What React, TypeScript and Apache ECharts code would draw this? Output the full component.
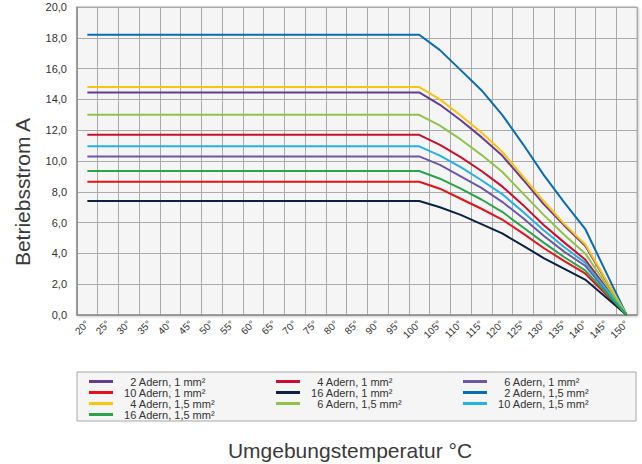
import React, { useEffect, useRef } from "react";
import * as echarts from "echarts";

const temps = [20, 25, 30, 35, 40, 45, 50, 55, 60, 65, 70, 75, 80, 85, 90, 95, 100, 105, 110, 115, 120, 125, 130, 135, 140, 145, 150];
const tempLabels = temps.map((t) => `${t}°`);

const seriesNames = [
  "2 Adern, 1 mm²",
  "4 Adern, 1 mm²",
  "6 Adern, 1 mm²",
  "10 Adern, 1 mm²",
  "16 Adern, 1 mm²",
  "2 Adern, 1,5 mm²",
  "4 Adern, 1,5 mm²",
  "6 Adern, 1,5 mm²",
  "10 Adern, 1,5 mm²",
  "16 Adern, 1,5 mm²",
];

const colors = ["#663c93", "#c8102e", "#6e57a3", "#e3131b", "#0b2341", "#0a6cb2", "#ffc20e", "#8fc449", "#23b1e6", "#2ca24b"];

// current up to 100 °C (flat part)
const plateau = [14.45, 11.7, 10.3, 8.65, 7.4, 18.2, 14.8, 13.0, 10.95, 9.35];

// current at 105, 110, ... 150 °C
const derated = [
  [13.65, 12.65, 11.55, 10.35, 8.8, 7.2, 5.8, 4.5, 2.25, 0],
  [11.05, 10.25, 9.35, 8.35, 7.15, 5.85, 4.7, 3.6, 1.8, 0],
  [9.75, 9.0, 8.25, 7.35, 6.3, 5.15, 4.1, 3.2, 1.6, 0],
  [8.2, 7.55, 6.9, 6.2, 5.3, 4.35, 3.5, 2.7, 1.35, 0],
  [7.0, 6.5, 5.9, 5.3, 4.5, 3.7, 3.0, 2.3, 1.15, 0],
  [17.2, 15.9, 14.6, 13.0, 11.1, 9.1, 7.3, 5.6, 2.8, 0],
  [14.0, 12.95, 11.85, 10.6, 9.0, 7.4, 5.9, 4.6, 2.3, 0],
  [12.3, 11.4, 10.4, 9.3, 7.9, 6.5, 5.2, 4.0, 2.0, 0],
  [10.35, 9.6, 8.75, 7.85, 6.7, 5.5, 4.4, 3.4, 1.7, 0],
  [8.85, 8.2, 7.5, 6.7, 5.7, 4.7, 3.75, 2.9, 1.45, 0],
];

// legend columns (indices into seriesNames)
const legendColumns = [
  [0, 3, 6, 9],
  [1, 4, 7],
  [2, 5, 8],
];

const yMin = 0;
const yMax = 20;
const yStep = 2;

const FONT = "'Liberation Sans', Arial, Helvetica, sans-serif";
const FIG = "\u2007";

export default function App() {
  const ref = useRef<HTMLDivElement>(null);

  useEffect(() => {
    if (!ref.current) return;
    const chart = echarts.init(ref.current, undefined, { renderer: "svg" });

    const series = seriesNames.map((name, i) => ({
      name,
      type: "line",
      symbol: "none",
      color: colors[i],
      lineStyle: { width: 2, color: colors[i] },
      data: temps.map((t) => (t <= 100 ? plateau[i] : derated[i][(t - 105) / 5])),
    }));

    const legendLefts = [89, 276, 463];
    const legends = legendColumns.map((col, ci) => ({
      show: true,
      orient: "vertical",
      left: legendLefts[ci],
      top: 376,
      padding: 0,
      itemGap: 0,
      itemWidth: 24,
      itemHeight: 3,
      icon: "rect",
      itemStyle: { borderWidth: 0 },
      lineStyle: { width: 0 },
      data: col.map((i) => seriesNames[i]),
      formatter: (name: string) => {
        const num = name.slice(0, name.indexOf(" "));
        return (num.length === 1 ? FIG + FIG : FIG) + name;
      },
      textStyle: {
        fontFamily: FONT,
        fontSize: 11,
        lineHeight: 10.8,
        color: "#333",
      },
    }));

    chart.setOption({
      animation: false,
      textStyle: { fontFamily: FONT },
      grid: {
        left: 77,
        right: 5,
        top: 7,
        bottom: 149,
        show: true,
        backgroundColor: "#f5f5f5",
        borderColor: "#b0b0b0",
        borderWidth: 1,
        shadowColor: "rgba(0,0,0,0.25)",
        shadowBlur: 3,
        shadowOffsetX: 1,
        shadowOffsetY: 1,
      },
      xAxis: {
        type: "category",
        data: tempLabels,
        boundaryGap: true,
        axisLine: { show: true, lineStyle: { color: "#8c8c8c", width: 1.5 } },
        axisTick: { show: false },
        splitLine: { show: true, interval: 0, lineStyle: { color: "#aaaaaa", width: 1 } },
        axisLabel: {
          interval: 0,
          rotate: 45,
          margin: 7,
          fontSize: 10,
          color: "#333",
          fontFamily: FONT,
        },
      },
      yAxis: {
        type: "value",
        min: yMin,
        max: yMax,
        interval: yStep,
        axisLine: { show: true, lineStyle: { color: "#8c8c8c", width: 1.5 } },
        axisTick: { show: false },
        splitLine: { show: true, lineStyle: { color: "#aaaaaa", width: 1 } },
        axisLabel: {
          margin: 10,
          fontSize: 11,
          color: "#333",
          fontFamily: FONT,
          formatter: (v: number) => v.toFixed(1).replace(".", ","),
        },
      },
      legend: legends,
      graphic: [
        {
          type: "rect",
          z: -10,
          silent: true,
          shape: { x: 77, y: 372, width: 559, height: 49 },
          style: { fill: "#f5f5f5", stroke: "#a8a8a8", lineWidth: 1 },
        },
        {
          type: "text",
          x: 22,
          y: 192,
          rotation: Math.PI / 2,
          style: {
            text: "Betriebsstrom A",
            fontSize: 21,
            fontFamily: FONT,
            fill: "#3a3a3a",
            align: "center",
            verticalAlign: "middle",
          },
        },
        {
          type: "text",
          x: 350,
          y: 450,
          style: {
            text: "Umgebungstemperatur °C",
            fontSize: 21,
            fontFamily: FONT,
            fill: "#3a3a3a",
            align: "center",
            verticalAlign: "middle",
          },
        },
      ],
      series,
    });

    return () => chart.dispose();
  }, []);

  return (
    <div
      ref={ref}
      style={{ position: "fixed", left: 0, top: 0, width: 642, height: 464, background: "#fff" }}
    />
  );
}
